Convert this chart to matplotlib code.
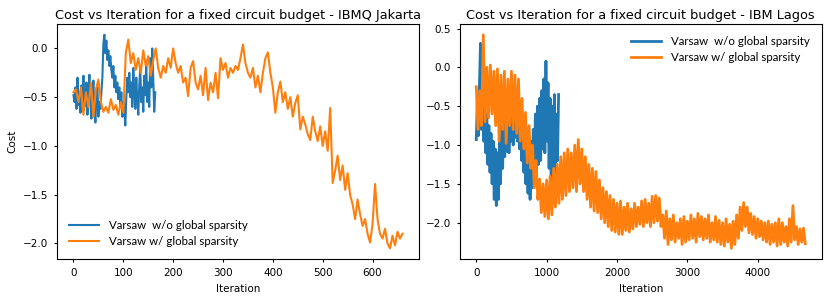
import matplotlib
matplotlib.use('Agg')
import matplotlib.pyplot as plt
import numpy as np

# --- IBMQ Jakarta ---
# w/o global sparsity, every 2 iterations (0..164)
jakarta_blue_iter = np.arange(0, 165, 2)
jakarta_blue = [-0.48, -0.55, -0.40, -0.62, -0.30, -0.58, -0.45, -0.66, -0.38, -0.55,
                -0.28, -0.60, -0.50, -0.35, -0.68, -0.42, -0.27, -0.55, -0.72, -0.48,
                -0.33, -0.62, -0.76, -0.50, -0.40, -0.70, -0.55, -0.62, -0.45, -0.30,
                0.05, 0.14, -0.05, 0.08, -0.12, -0.02, -0.18, -0.08, -0.22,
                -0.30, -0.18, -0.40, -0.28, -0.45, -0.35, -0.52, -0.40, -0.60, -0.45,
                -0.70, -0.55, -0.65, -0.79, -0.50, -0.30, -0.45,
                -0.25, -0.50, -0.35, -0.60, -0.20, -0.45, -0.62, -0.30, -0.52, -0.68,
                -0.38, -0.20, -0.55, -0.40, -0.65, -0.28, -0.48, -0.15, -0.55, -0.35,
                -0.60, -0.10, -0.40, 0.00, -0.30, -0.65, -0.45]

# w/ global sparsity, every 5 iterations (0..660)
jakarta_orange_iter = np.arange(0, 661, 5)
jakarta_orange = [-0.45, -0.42, -0.55, -0.40, -0.68, -0.45, -0.60, -0.35, -0.70, -0.42, -0.32,
                  -0.55, -0.65, -0.60, -0.66, -0.52, -0.63, -0.58, -0.68, -0.55, -0.66,
                  -0.05, 0.09, -0.15, -0.05, -0.22, -0.10, -0.25, -0.02, -0.18, -0.08,
                  -0.28, -0.12, 0.00, -0.20,
                  -0.30, -0.18, -0.25, -0.10, -0.20, 0.00,
                  -0.15, -0.25, -0.18, -0.35, -0.30, -0.49, -0.20, -0.13, -0.35, -0.42, -0.28, -0.48,
                  -0.20, -0.53, -0.35, -0.45, -0.25, -0.51, -0.10, -0.22,
                  -0.15, -0.30, -0.20, -0.25, -0.18, -0.22, -0.10, 0.04, -0.15, -0.25,
                  -0.30, -0.20, -0.40, -0.28, -0.45, -0.25, -0.10, -0.04, -0.25, -0.40,
                  -0.66, -0.45, -0.34, -0.55,
                  -0.45, -0.62, -0.50, -0.70, -0.56, -0.48, -0.83, -0.70,
                  -0.78, -0.88, -0.94, -0.70, -0.85, -0.95, -0.80, -1.00,
                  -0.85, -1.05, -0.61, -1.38, -1.25,
                  -1.10, -1.35, -1.20, -1.45, -1.28, -1.50, -1.60,
                  -1.75, -1.55, -1.70, -1.82, -1.75, -1.90, -1.99, -1.80,
                  -1.39, -1.75, -1.90, -1.95, -1.85, -2.00, -2.05, -1.92, -2.02, -1.88, -1.95, -1.90]

# --- IBM Lagos ---
# w/o global sparsity, every 15 iterations (0..1170)
lagos_blue_iter = np.arange(0, 1171, 15)
lagos_blue = [-0.93, -0.45, -0.88, -0.25, 0.31, -0.80, -0.35, -0.95, -0.50, -1.10,
              -0.60, -1.25, -0.75, -1.35, -0.85, -1.50, -0.95, -1.70, -1.05, -1.78,
              -1.10, -1.70, -0.95, -1.50, -0.75, -1.30, -0.65, -1.15, -0.55, -1.08,
              -0.50, -1.10, -0.60, -0.95, -0.45, -1.00, -0.40, -0.90, -0.30, -0.95,
              -0.25, -1.05, -0.50, -1.20, -0.65, -1.35, -0.80, -1.50, -0.90, -1.62,
              -1.00, -1.70, -0.95, -1.55, -0.80, -1.45, -0.60, -1.35, -0.50, -1.25,
              -0.40, -1.20, -0.30, -1.05, -0.15, -1.10, 0.08, -0.95, -0.20, -1.30,
              -0.40, -1.45, -0.50, -1.35, -0.35, -1.40, -0.60, -1.20, -0.35]

# w/ global sparsity, every 25 iterations (0..4675)
lagos_orange_iter = np.arange(0, 4676, 25)
lagos_orange = [-0.25, -0.80, -0.30, -0.75, 0.42, -0.70, 0.00, -0.65, 0.03, -0.60,
                -0.05, -0.75, -0.02, -0.95, -0.10, -0.80, -0.05, -0.98, -0.15, -0.75,
                -0.05, -0.80, -0.10, -0.85, -0.15, -0.95, -0.40, -1.05, -0.58, -1.23,
                -0.75, -1.30, -1.00, -1.55, -1.20, -1.70, -1.44, -1.87, -1.50, -1.92,
                -1.45, -1.95, -1.40, -1.90, -1.30, -1.80, -1.25, -1.75, -1.15, -1.70,
                -1.10, -1.65, -1.05, -1.60, -1.10, -1.55, -1.00, -1.60, -0.93, -1.50,
                -1.05, -1.60, -1.15, -1.70, -1.25, -1.80, -1.30, -1.85, -1.34, -1.87,
                -1.45, -1.95, -1.55, -2.00, -1.60, -2.05, -1.65, -2.10, -1.70, -2.12,
                -1.75, -2.15, -1.72, -2.15, -1.80, -2.10, -1.75, -2.12, -1.82, -2.08,
                -1.75, -2.05, -1.80, -2.02, -1.72, -2.05, -1.70, -2.00, -1.75, -2.05,
                -1.66, -2.00, -1.65, -1.98, -1.68, -2.05, -1.90, -2.20, -1.85, -2.28,
                -1.95, -2.22, -1.90, -2.25, -2.00, -2.20, -1.95, -2.28, -1.92, -2.25,
                -1.98, -2.22, -1.90, -2.20, -1.95, -2.25, -1.88, -2.18, -1.92, -2.22,
                -1.95, -2.20, -1.90, -2.25, -2.00, -2.22, -1.92, -2.25, -1.97, -2.28,
                -2.00, -2.30, -1.95, -2.25, -2.02, -2.33, -1.98, -2.28, -1.90, -2.20,
                -1.80, -2.10, -1.74, -2.05, -1.80, -2.13, -1.88, -2.15, -1.92, -2.20,
                -1.95, -2.18, -1.98, -2.22, -2.00, -2.25, -1.98, -2.28, -2.02, -2.25,
                -2.00, -2.30, -1.95, -2.28, -2.00, -2.25, -2.05, -2.30, -1.95, -2.25,
                -1.78, -2.22, -2.05, -2.28, -2.08, -2.25, -2.07, -2.27]

label_wo = 'Varsaw  w/o global sparsity'
label_w = 'Varsaw w/ global sparsity'

tick_fs = 7.5
title_fs = 9.3
leg_font = {'family': 'Lato', 'size': 8.3}

fig, (ax1, ax2) = plt.subplots(1, 2, figsize=(8.3, 3.01), dpi=100)
fig.subplots_adjust(left=0.0687, right=0.990, bottom=0.1395, top=0.920, wspace=0.113)

ax1.plot(jakarta_blue_iter, jakarta_blue, color='#1f77b4', lw=1.5, label=label_wo)
ax1.plot(jakarta_orange_iter, jakarta_orange, color='#ff7f0e', lw=1.5, label=label_w)
ax1.set_title('Cost vs Iteration for a fixed circuit budget - IBMQ Jakarta', fontsize=title_fs, pad=4)
ax1.set_xlabel('Iteration', fontsize=tick_fs)
ax1.set_ylabel('Cost', fontsize=tick_fs)
ax1.legend(loc='lower left', frameon=False, prop=leg_font, handlelength=2.6,
           handletextpad=0.9, borderaxespad=0.6)

ax2.plot(lagos_blue_iter, lagos_blue, color='#1f77b4', lw=2.0, label=label_wo)
ax2.plot(lagos_orange_iter, lagos_orange, color='#ff7f0e', lw=2.0, label=label_w)
ax2.set_title('Cost vs Iteration for a fixed circuit budget - IBM Lagos', fontsize=title_fs, pad=4)
ax2.set_xlabel('Iteration', fontsize=tick_fs)
ax2.legend(loc='upper right', frameon=False, prop=leg_font, handlelength=2.6,
           handletextpad=0.9, borderaxespad=0.6)

for ax in (ax1, ax2):
    ax.tick_params(labelsize=tick_fs, length=2.5, pad=4)

ax1.set_yticks([0.0, -0.5, -1.0, -1.5, -2.0])
ax1.set_xticks([0, 100, 200, 300, 400, 500, 600])
ax2.set_yticks([0.5, 0.0, -0.5, -1.0, -1.5, -2.0])
ax2.set_xticks([0, 1000, 2000, 3000, 4000])

plt.savefig('out.png', dpi=100)
